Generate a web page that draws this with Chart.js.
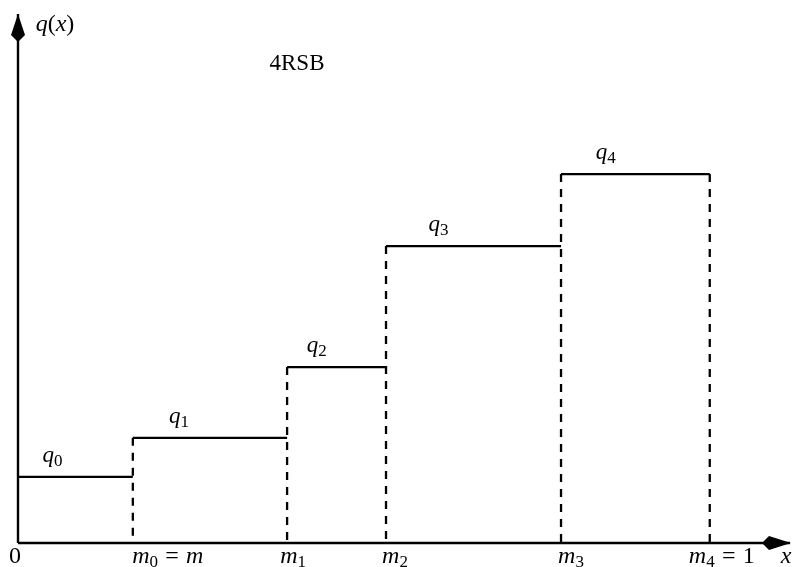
<!DOCTYPE html>
<html>
<head>
<meta charset="utf-8">
<script src="https://cdn.jsdelivr.net/npm/chart.js@4/dist/chart.umd.min.js"></script>
<style>
  html, body { margin: 0; padding: 0; background: #fff; }
  canvas { display: block; }
</style>
</head>
<body>
<canvas id="chart" width="792" height="567"></canvas>
<script>
// Breakpoints m0..m4 on the x axis (m4 = 1).
const breakpoints = [0.166, 0.389, 0.532, 0.785, 1.0];
// Plateau heights q0..q4.
const qValues = [0.179, 0.285, 0.477, 0.805, 1.0];
const qLabels = ['q_0', 'q_1', 'q_2', 'q_3', 'q_4'];
const tickValues = [0, 0.166, 0.389, 0.532, 0.785, 1.0];
const tickLabels = ['0', 'm_0 = m', 'm_1', 'm_2', 'm_3', 'm_4 = 1'];
const title = '4RSB';

// Axis ends (where the arrow tips sit).
const X_MAX = 1.116;
const Y_MAX = 1.434;

const FONT = '"Liberation Serif", "DejaVu Serif", serif';

// Draw a tiny bit of TeX-like text: letters italic, "_x" as a subscript.
function drawMath(ctx, str, cx, baseline, size, roman) {
  const parts = [];
  for (let i = 0; i < str.length; i++) {
    const c = str[i];
    if (c === '_') {
      parts.push({ t: str[++i], sub: true });
      continue;
    }
    parts.push({ t: c, it: !roman && /[a-z]/i.test(c) });
  }
  const font = p => p.sub
    ? `${Math.round(size * 0.72)}px ${FONT}`
    : `${p.it ? 'italic ' : ''}${size}px ${FONT}`;
  let w = 0;
  parts.forEach(p => {
    ctx.font = font(p);
    p.w = p.t === ' ' ? size * 0.3 : ctx.measureText(p.t).width;
    w += p.w;
  });
  let x = cx - w / 2;
  ctx.textAlign = 'left';
  ctx.textBaseline = 'alphabetic';
  parts.forEach(p => {
    ctx.font = font(p);
    if (p.t !== ' ') ctx.fillText(p.t, x, baseline + (p.sub ? size * 0.18 : 0));
    x += p.w;
  });
}

// Arrow heads, tick labels, step labels and title.
const annotations = {
  id: 'annotations',
  afterDatasetsDraw(chart) {
    const { ctx, scales: { x, y } } = chart;
    const x0 = x.getPixelForValue(0);
    const y0 = y.getPixelForValue(0);
    const xe = x.getPixelForValue(X_MAX);
    const ye = y.getPixelForValue(Y_MAX);
    ctx.save();
    ctx.fillStyle = '#000';

    // y arrow
    ctx.beginPath();
    ctx.moveTo(x0, ye);
    ctx.lineTo(x0 - 7, ye + 21);
    ctx.lineTo(x0, ye + 28);
    ctx.lineTo(x0 + 7, ye + 21);
    ctx.closePath();
    ctx.fill();

    // x arrow
    ctx.beginPath();
    ctx.moveTo(xe + 1, y0);
    ctx.lineTo(xe - 21, y0 - 7);
    ctx.lineTo(xe - 28, y0);
    ctx.lineTo(xe - 21, y0 + 7);
    ctx.closePath();
    ctx.fill();

    // tick labels under the x axis
    const tickShift = [-3, 35, 6, 9, 10, 12];
    tickValues.forEach((v, i) => {
      drawMath(ctx, tickLabels[i], x.getPixelForValue(v) + tickShift[i], y0 + 20, 24);
    });
    drawMath(ctx, 'x', xe - 4, y0 + 20, 24);
    drawMath(ctx, 'q(x)', x0 + 37, ye + 17, 24);

    // labels above each plateau
    qValues.forEach((q, i) => {
      const a = x.getPixelForValue(i === 0 ? 0 : breakpoints[i - 1]);
      const b = x.getPixelForValue(breakpoints[i]);
      drawMath(ctx, qLabels[i], a + 0.3 * (b - a), y.getPixelForValue(q) - 15, 23);
    });

    drawMath(ctx, title, 297, 70, 23, true);
    ctx.restore();
  }
};

// Solid plateaus.
const stepSets = qValues.map((q, i) => ({
  data: [{ x: i === 0 ? 0 : breakpoints[i - 1], y: q }, { x: breakpoints[i], y: q }],
  borderColor: '#000',
  borderWidth: 2.3
}));

// Dashed drops from each breakpoint down to the axis.
const dropSets = breakpoints.map((m, i) => ({
  data: [{ x: m, y: qValues[Math.min(i + 1, qValues.length - 1)] }, { x: m, y: 0 }],
  borderColor: '#000',
  borderWidth: 2.3,
  borderDash: [8, 7]
}));

const axisSets = [
  { data: [{ x: 0, y: 0 }, { x: X_MAX, y: 0 }], borderColor: '#000', borderWidth: 2.4 },
  { data: [{ x: 0, y: 0 }, { x: 0, y: Y_MAX }], borderColor: '#000', borderWidth: 2.4 }
];

const chart = new Chart('chart', {
  type: 'line',
  data: { datasets: [...axisSets, ...dropSets, ...stepSets] },
  options: {
    responsive: false,
    animation: false,
    layout: { padding: { left: 18, right: 2, top: 14, bottom: 24 } },
    datasets: { line: { clip: false, pointRadius: 0, fill: false, tension: 0, borderCapStyle: 'butt' } },
    scales: {
      x: { type: 'linear', min: 0, max: X_MAX, display: false },
      y: { type: 'linear', min: 0, max: Y_MAX, display: false }
    },
    plugins: { legend: { display: false }, tooltip: { enabled: false } }
  },
  plugins: [annotations]
});
</script>
</body>
</html>
